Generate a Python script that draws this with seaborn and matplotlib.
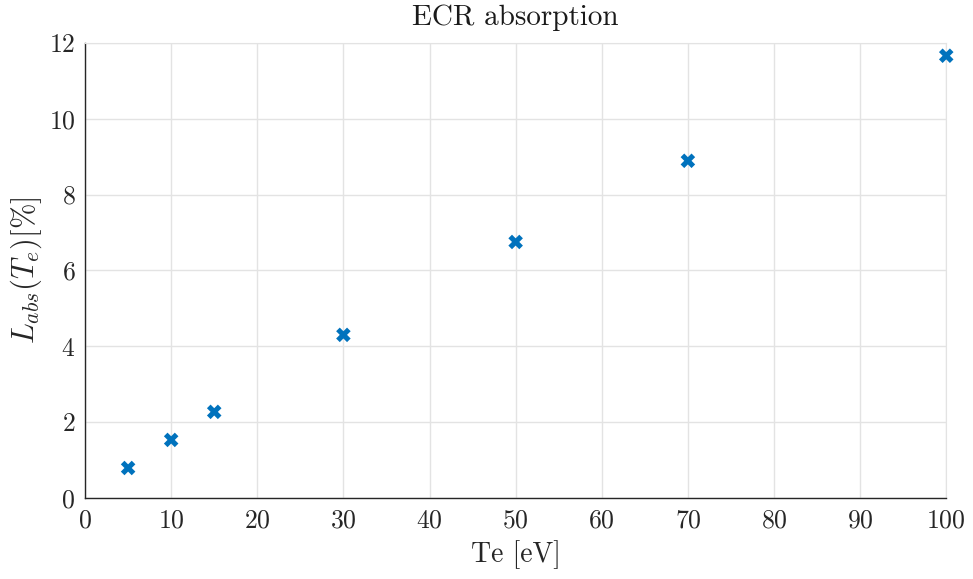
import matplotlib
matplotlib.use("Agg")
import matplotlib.pyplot as plt
import seaborn as sns
import pandas as pd

te = [5, 10, 15, 30, 50, 70, 100]
labs = [0.79, 1.53, 2.27, 4.30, 6.75, 8.89, 11.66]
xticks = [0, 10, 20, 30, 40, 50, 60, 70, 80, 90, 100]
yticks = [0, 2, 4, 6, 8, 10, 12]

sns.set_style("white")
plt.rcParams['font.family'] = ['cmr10']
plt.rcParams['mathtext.fontset'] = 'cm'
plt.rcParams['axes.formatter.use_mathtext'] = True

df = pd.DataFrame({"Te": te, "L": labs})
fig, ax = plt.subplots(figsize=(9.73, 5.79), dpi=100)
fig.subplots_adjust(left=0.0874, right=0.9725, bottom=0.14, top=0.926)

sns.scatterplot(data=df, x="Te", y="L", ax=ax, marker="X", s=110,
                color="#0072BD", edgecolor="none", zorder=3, clip_on=False)

ax.set_xlim(0, 100)
ax.set_ylim(0, 12)
ax.set_xticks(xticks)
ax.set_yticks(yticks)
ax.grid(True, color="#e3e3e3", linewidth=1.0)
ax.set_axisbelow(True)
for s in ["top", "right"]:
    ax.spines[s].set_color("#e3e3e3")
for s in ["left", "bottom"]:
    ax.spines[s].set_color("#262626")
    ax.spines[s].set_linewidth(1.0)
ax.tick_params(direction="in", length=7, width=1.0, color="#262626",
               labelsize=18.5, labelcolor="#262626", top=False, right=False)
ax.tick_params(axis="x", pad=8)
ax.tick_params(axis="y", pad=7)
ax.set_title("ECR absorption", fontsize=21, color="#1a1a1a", pad=13)
ax.set_xlabel("Te [eV]", fontsize=20, color="#262626", labelpad=5)
ax.set_ylabel(r"$L_{abs}(T_e)[\%]$", fontsize=22, color="#262626", labelpad=3)

fig.savefig("out.png", dpi=100)
